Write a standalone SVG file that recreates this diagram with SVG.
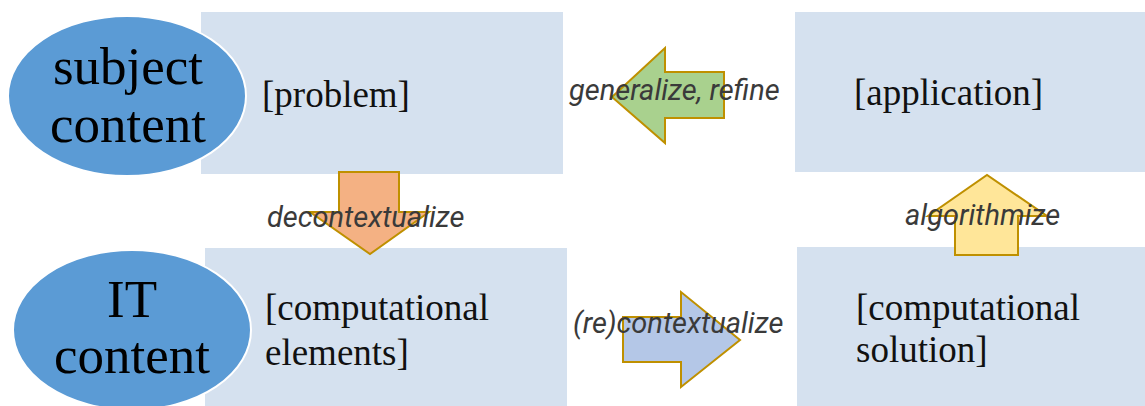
<svg xmlns="http://www.w3.org/2000/svg" width="1145" height="406" viewBox="0 0 1145 406">
<style>
.box{fill:#d5e1ef}
.oval{fill:#5b9bd5;stroke:#ffffff;stroke-width:2}
.big{font-family:"Liberation Serif","Times New Roman",serif;font-size:53px;fill:#000;text-anchor:middle}
.txt{font-family:"Liberation Serif","Times New Roman",serif;font-size:37px;fill:#111}
.arr{stroke:#bf9000;stroke-width:2;stroke-linejoin:miter}
.lbl{font-family:Roboto,"Liberation Sans",sans-serif;font-style:italic;font-size:29px;fill:#3a3a3a}
</style>
<g id="problem"><rect class="box" x="201" y="12" width="362" height="162"/><text class="txt" x="262" y="107">[problem]</text></g>
<g id="application"><rect class="box" x="795" y="12" width="350" height="160"/><text class="txt" x="854" y="105">[application]</text></g>
<g id="elements"><rect class="box" x="205" y="248" width="362" height="158"/><text class="txt" x="265" y="320">[computational</text><text class="txt" x="265" y="365">elements]</text></g>
<g id="solution"><rect class="box" x="797" y="247" width="348" height="159"/><text class="txt" x="856" y="320">[computational</text><text class="txt" x="856" y="362">solution]</text></g>
<g id="subject"><ellipse class="oval" cx="127" cy="96" rx="119" ry="80"/><text class="big" x="128" y="84">subject</text><text class="big" x="128" y="142">content</text></g>
<g id="it"><ellipse class="oval" cx="132" cy="330" rx="119" ry="80"/><text class="big" x="132" y="317">IT</text><text class="big" x="132" y="373">content</text></g>
<g id="connectors">
<polygon class="arr" fill="#f4b183" points="339,172 399,172 399,212 429,212 370,254 310,212 339,212"/>
<polygon class="arr" fill="#a9d18e" points="724,72 724,118 665,118 665,143 612,97 665,48 665,72"/>
<polygon class="arr" fill="#b4c7e7" points="623,317 681,317 681,292 740,340 681,387 681,362 623,362"/>
<polygon class="arr" fill="#ffe699" points="955,255 1018,255 1018,216 1047,216 987,175 928,216 955,216"/>
<text class="lbl" x="267" y="227">decontextualize</text>
<text class="lbl" x="569" y="100">generalize, refine</text>
<text class="lbl" x="573" y="333">(re)contextualize</text>
<text class="lbl" x="905" y="225">algorithmize</text>
</g>
</svg>
